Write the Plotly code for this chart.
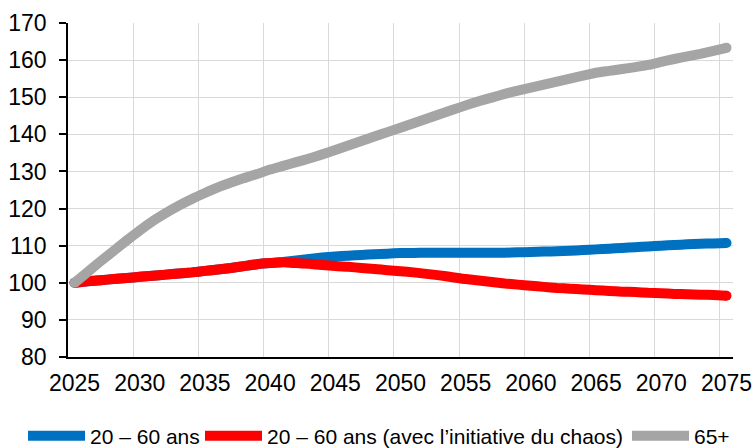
import plotly.graph_objects as go

years = list(range(2025, 2076))

age_20_60 = [100, 100.4, 100.7, 101.0, 101.3, 101.6, 101.9, 102.2, 102.5, 102.8,
             103.2, 103.6, 104.0, 104.5, 105.0, 105.3, 105.6, 106.0, 106.4, 106.8,
             107.1, 107.3, 107.5, 107.7, 107.85, 108.0, 108.05, 108.1, 108.1, 108.1,
             108.1, 108.1, 108.1, 108.1, 108.2, 108.3, 108.4, 108.5, 108.65, 108.8,
             109.0, 109.2, 109.4, 109.6, 109.8, 110.0, 110.2, 110.35, 110.5, 110.6,
             110.7]

age_20_60_chaos = [100, 100.4, 100.7, 101.0, 101.3, 101.6, 101.9, 102.2, 102.5, 102.8,
                   103.2, 103.6, 104.0, 104.5, 105.0, 105.3, 105.5, 105.3, 105.1, 104.8,
                   104.5, 104.3, 104.0, 103.7, 103.4, 103.1, 102.8, 102.4, 102.0, 101.5,
                   101.0, 100.6, 100.2, 99.8, 99.5, 99.2, 98.9, 98.6, 98.4, 98.2,
                   98.0, 97.8, 97.6, 97.5, 97.3, 97.2, 97.0, 96.9, 96.8, 96.7,
                   96.5]

age_65_plus = [100, 102.9, 105.8, 108.6, 111.4, 114.1, 116.6, 118.8, 120.8, 122.6,
               124.2, 125.7, 127.0, 128.2, 129.3, 130.5, 131.5, 132.5, 133.5, 134.6,
               135.8, 137.0, 138.2, 139.4, 140.6, 141.8, 143.0, 144.2, 145.4, 146.6,
               147.8, 148.9, 149.9, 150.9, 151.8, 152.6, 153.4, 154.2, 155.0, 155.8,
               156.6, 157.1, 157.6, 158.1, 158.7, 159.5, 160.3, 161.0, 161.7, 162.5,
               163.3]

series_names = ["20 – 60 ans", "20 – 60 ans (avec l’initiative du chaos)", "65+"]
series_values = [age_20_60, age_20_60_chaos, age_65_plus]
colors = ["#0070C0", "#FF0000", "#A5A5A5"]

x_tick_labels = [str(y) for y in range(2025, 2076, 5)]
x_tick_vals = list(range(2025, 2076, 5))
y_tick_vals = list(range(80, 171, 10))

LW = 10
FONT = "Liberation Sans, Arial, sans-serif"
W, H = 755, 448

legend_ids = ["legend", "legend2", "legend3"]
legend_x_px = [23, 200, 627]

fig = go.Figure()
for name, vals, col, lid in zip(series_names, series_values, colors, legend_ids):
    fig.add_trace(go.Scatter(
        x=years, y=vals, name=name, mode="lines", legend=lid,
        line=dict(color=col, width=LW, shape="spline", smoothing=0.6),
    ))
    # round caps at line ends
    fig.add_trace(go.Scatter(
        x=[years[0], years[-1]], y=[vals[0], vals[-1]], mode="markers",
        marker=dict(color=col, size=LW, line=dict(width=0)),
        showlegend=False, hoverinfo="skip",
    ))

legend_common = dict(
    orientation="h", xref="container", yref="container",
    xanchor="left", yanchor="middle", y=(H - 436) / H,
    font=dict(size=21, family=FONT, color="black"),
    itemwidth=57, bgcolor="rgba(0,0,0,0)",
)

layout_legends = {}
for lid, px in zip(legend_ids, legend_x_px):
    layout_legends[lid] = dict(legend_common, x=px / W)

fig.update_layout(
    width=W, height=H,
    margin=dict(l=68, r=22, t=23, b=91, autoexpand=False),
    paper_bgcolor="white", plot_bgcolor="white",
    font=dict(family=FONT, color="black", size=23),
    showlegend=True,
    xaxis=dict(
        range=[2024.5, 2075.5],
        tickmode="array", tickvals=x_tick_vals, ticktext=x_tick_labels,
        showgrid=False, ticks="", ticklabelstandoff=5,
        showline=True, linecolor="black", linewidth=1.5,
        zeroline=False,
        minor=dict(tick0=2024.5, dtick=5, showgrid=True,
                   gridcolor="#D9D9D9", gridwidth=1.3, ticks=""),
        tickfont=dict(size=23),
    ),
    yaxis=dict(
        range=[80, 170],
        tickmode="array", tickvals=y_tick_vals,
        showgrid=True, gridcolor="#D9D9D9", gridwidth=1.3,
        ticks="outside", ticklen=7, tickcolor="black", tickwidth=1.5,
        showline=True, linecolor="black", linewidth=1.5,
        zeroline=False, ticklabelstandoff=8,
        tickfont=dict(size=23),
    ),
    **layout_legends,
)

fig.write_html(
    "out.html",
    config={"displayModeBar": False},
    post_script="document.body.style.margin='0';document.body.style.padding='0';",
)
